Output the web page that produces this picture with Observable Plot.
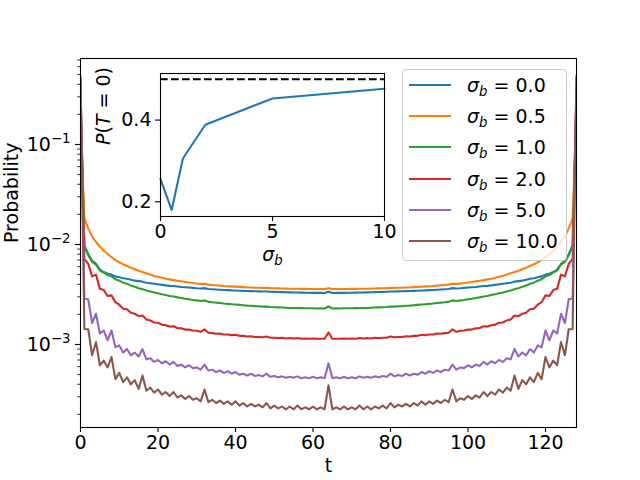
<!DOCTYPE html>
<html><head><meta charset="utf-8">
<script src="https://cdn.jsdelivr.net/npm/d3@7"></script>
<script src="https://cdn.jsdelivr.net/npm/@observablehq/plot@0.6"></script>
<style>
body{margin:0;background:#fff;font-family:"DejaVu Sans",sans-serif;}
#wrap{position:relative;width:640px;height:480px;overflow:hidden;background:#fff;}
#main,#inset{position:absolute;}
#main{left:0;top:0;}
#inset{left:100px;top:63px;}
#legend{position:absolute;left:402px;top:69px;width:165px;height:192px;box-sizing:border-box;background:rgba(255,255,255,0.8);border:1px solid #cccccc;border-radius:4px;font-family:"DejaVu Sans",sans-serif;font-size:19px;color:#000;}
.row{position:absolute;left:0;width:160px;height:24px;}
.swatch{position:absolute;left:6px;width:42px;height:2.1px;top:11px;}
.lab{position:absolute;left:64px;top:0;line-height:24px;white-space:nowrap;}
.lab i{font-style:italic;}
.lab .sub{font-size:70%;position:relative;top:0.3em;}
</style>
</head><body>
<div id="wrap"><div id="main"></div><div id="inset"></div><div id="legend"></div></div>
<script>
// ---- data (probabilities in units of 1e-4), t = 0..128 ----
const sigmaLabels = ["0.0","0.5","1.0","2.0","5.0","10.0"];
const sigmaValues = [0, 0.5, 1, 2, 5, 10];
const colors = ["#1f77b4","#ff7f0e","#2ca02c","#d62728","#9467bd","#8c564b"];
const pT0 = [0.2556, 0.1797, 0.306, 0.3885, 0.453, 0.4766];

const p_s00 = [2556, 98,80,69,64,56,53,51,50,48,47, 46,45.5,44.5,43.5,43,42.5,41.5,41,40.5,40,
 39.5,39,38.6,38.4,38,37.6,37.4,37.1,36.8,36.5, 36.3,36.6,35.9,35.7,35.5,35.3,35.1,35,34.8,34.7,
 34.5,34.4,34.3,34.2,34.1,34,33.9,33.9,33.7,33.6, 33.5,33.4,33.3,33.2,33.1,33.1,33.0,32.9,32.9,32.8,
 32.8,32.8,32.7,33.6,
 32.7,32.8,32.8,32.8,32.9,32.9,33.0,33.1,33.1,33.2, 33.3,33.4,33.5,33.6,33.7,33.9,33.9,34,34.1,34.2,
 34.3,34.4,34.5,34.7,34.8,35,35.1,35.3,35.5,35.7, 35.9,36.6,36.3,36.5,36.8,37.1,37.4,37.6,38,38.4,
 38.6,39,39.5,40,40.5,41,41.5,42.5,43,43.5, 44.5,45.5,46,47,48,50,51,53,56,64, 69,80,98, 2500];

const p_s05 = [1797, 182,145,120,106,95,87,80,75,70,66.5, 63.5,61,58.5,56.5,54.5,53,51.5,50,48.5,47.5,
 46.5,45.5,44.8,44,43.4,42.8,42.2,41.7,41.2,40.8, 40.4,40.5,39.7,39.4,39.1,38.8,38.5,38.3,38.1,37.9,
 37.7,37.5,37.3,37.2,37.0,36.9,36.8,36.8,36.6,36.5, 36.4,36.3,36.2,36.1,36.1,36.1,36.0,36.0,35.9,35.9,
 35.9,35.9,35.8,36.6,
 35.8,35.9,35.9,35.9,35.9,36.0,36.0,36.1,36.1,36.1, 36.2,36.3,36.4,36.5,36.6,36.8,36.8,36.9,37.0,37.2,
 37.3,37.5,37.7,37.9,38.1,38.3,38.5,38.8,39.1,39.4, 39.7,40.5,40.4,40.8,41.2,41.7,42.2,42.8,43.4,44,
 44.8,45.5,46.5,47.5,48.5,50,51.5,53,54.5,56.5, 58.5,61,63.5,66.5,70,75,80,87,95,106, 120,145,182, 1850];

const p_s10 = [3060, 98,78,67,63,55,52.5,49.5,48,45,43.5, 41.5,40.5,38.8,37.8,36.6,35.8,34.6,33.9,33.1,32.5,
 31.8,31.2,30.6,30.2,29.6,29.2,28.7,28.4,27.9,27.6, 27.2,27.6,26.7,26.5,26.2,26.0,25.7,25.5,25.3,25.1,
 24.9,24.7,24.5,24.4,24.2,24.1,23.9,23.9,23.7,23.6, 23.5,23.4,23.3,23.2,23.2,23.2,23.1,23.0,23.0,23.0,
 22.9,23.0,22.9,24.0,
 22.9,23.0,22.9,23.0,23.0,23.0,23.1,23.2,23.2,23.2, 23.3,23.4,23.5,23.6,23.7,23.9,23.9,24.1,24.2,24.4,
 24.5,24.7,24.9,25.1,25.3,25.5,25.7,26.0,26.2,26.5, 26.7,27.6,27.2,27.6,27.9,28.4,28.7,29.2,29.6,30.2,
 30.6,31.2,31.8,32.5,33.1,33.9,34.6,35.8,36.6,37.8, 38.8,40.5,41.5,43.5,45,48,49.5,52.5,55,63, 67,78,98, 3100];

const p_s20 = [3885, 72,64,48,50,36,35,30.5,31,26.5,25, 22.8,22.5,20.8,20.3,19.2,19.5,17.8,17.4,16.6,16.5,
 15.8,15.6,15.1,15.2,14.6,14.5,14.1,14.1,13.8,13.7, 13.4,14.2,13.1,13.0,12.8,12.9,12.6,12.6,12.4,12.5,
 12.2,12.2,12.0,12.1,11.9,11.9,11.8,12.0,11.7,11.7, 11.6,11.7,11.5,11.6,11.5,11.6,11.4,11.5,11.4,11.5,
 11.4,11.4,11.4,13.2,
 11.4,11.4,11.4,11.5,11.4,11.5,11.4,11.6,11.5,11.6, 11.5,11.7,11.6,11.7,11.7,12.0,11.8,11.9,11.9,12.1,
 12.0,12.2,12.2,12.5,12.4,12.6,12.6,12.9,12.8,13.0, 13.1,14.2,13.4,13.7,13.8,14.1,14.1,14.5,14.6,15.2,
 15.1,15.6,15.8,16.5,16.6,17.4,17.8,19.5,19.2,20.3, 20.8,22.5,22.8,25,26.5,31,30.5,35,36,50, 48,64,72, 3950];

const p_s50 = [4530, 28.8,28.3,16.4,20.3,12.9,13.8,11.0,13.8,9.4,9.8, 8.3,9.0,7.8,8.3,7.6,9.0,7.1,7.3,6.7,7.0,
 6.5,6.8,6.3,6.7,6.1,6.3,5.9,6.2,5.8,5.9, 5.6,6.3,5.5,5.6,5.3,5.5,5.2,5.4,5.1,5.3,
 5.0,5.1,4.9,5.1,4.85,4.95,4.8,5.1,4.75,4.85, 4.7,4.8,4.65,4.75,4.65,4.8,4.6,4.7,4.6,4.75,
 4.6,4.7,4.6,6.5,
 4.6,4.7,4.6,4.75,4.6,4.7,4.6,4.8,4.65,4.75, 4.65,4.8,4.7,4.85,4.75,5.1,4.8,4.95,4.85,5.1,
 4.9,5.1,5.0,5.3,5.1,5.4,5.2,5.5,5.3,5.6, 5.5,6.3,5.6,5.9,5.8,6.2,5.9,6.3,6.1,6.7,
 6.3,6.8,6.5,7.0,6.7,7.3,7.1,9.0,7.6,8.3, 7.8,9.0,8.3,9.8,9.4,13.8,11.0,13.8,12.9,20.3, 16.4,28.3,28.8, 4600];

const p_s100 = [4766, 14.3,14.2,7.8,10.6,6.2,6.9,5.9,7.5,4.5,5.2, 4.2,4.7,4.0,4.4,3.6,4.9,3.45,3.7,3.3,3.55,
 3.15,3.35,3.05,3.35,2.95,3.1,2.85,3.05,2.8,2.9, 2.7,3.55,2.65,2.8,2.6,2.75,2.55,2.7,2.5,2.7,
 2.45,2.6,2.4,2.55,2.4,2.5,2.35,2.6,2.3,2.45, 2.3,2.4,2.25,2.4,2.25,2.45,2.25,2.35,2.25,2.4,
 2.25,2.35,2.25,3.9,
 2.25,2.35,2.25,2.4,2.25,2.35,2.25,2.45,2.25,2.4, 2.25,2.4,2.3,2.45,2.3,2.6,2.35,2.5,2.4,2.55,
 2.4,2.6,2.45,2.7,2.5,2.7,2.55,2.75,2.6,2.8, 2.65,3.55,2.7,2.9,2.8,3.05,2.85,3.1,2.95,3.35,
 3.05,3.35,3.15,3.55,3.3,3.7,3.45,4.9,3.6,4.4, 4.0,4.7,4.2,5.2,4.5,7.5,5.9,6.9,6.2,10.6, 7.8,14.2,14.3, 4900];

const seriesValues = [p_s00, p_s05, p_s10, p_s20, p_s50, p_s100];
const unit = 1e-4;

const xTicks = [0, 20, 40, 60, 80, 100, 120];
const yMajor = [1e-3, 1e-2, 1e-1];
const yMinor = [2e-4,3e-4,4e-4,5e-4,6e-4,7e-4,8e-4,9e-4, 2e-3,3e-3,4e-3,5e-3,6e-3,7e-3,8e-3,9e-3,
                2e-2,3e-2,4e-2,5e-2,6e-2,7e-2,8e-2,9e-2, 2e-1,3e-1,4e-1,5e-1,6e-1,7e-1];
const insetXTicks = [0, 5, 10];
const insetYTicks = [0.2, 0.4];
const insetRef = 0.5;

// ---- tables ----
const data = [];
seriesValues.forEach((arr, i) => arr.forEach((v, t) => data.push({t, p: v * unit, s: sigmaLabels[i]})));
const insetData = sigmaValues.map((s, i) => ({s, p: pT0[i]}));

const font = {fontFamily: "'DejaVu Sans', sans-serif", fontSize: "19px", color: "black", background: "transparent", overflow: "visible"};

const main = Plot.plot({
  width: 640, height: 480,
  marginLeft: 80, marginRight: 64, marginTop: 58, marginBottom: 53,
  style: font,
  x: {domain: [0, 128], label: null},
  y: {type: "log", domain: [1.479e-4, 0.7244], label: null},
  color: {domain: sigmaLabels, range: colors},
  marks: [
    Plot.line(data, {x: "t", y: "p", z: "s", stroke: "s", strokeWidth: 2.1, clip: true}),
    Plot.frame({stroke: "black", strokeWidth: 1.1}),
    Plot.axisX({ticks: xTicks, tickSize: 5, tickPadding: 3, strokeWidth: 1.1, label: null, tickFormat: d => String(d)}),
    Plot.axisY({ticks: yMajor, tickSize: 5, tickPadding: 5, strokeWidth: 1.1, label: null,
      tickFormat: d => "10^" + String(Math.round(Math.log10(d))).replace("-", "\u2212")}),
    Plot.axisY({ticks: yMinor, tickSize: 2.8, strokeWidth: 0.8, label: null, tickFormat: () => ""}),
    Plot.text(["Probability"], {text: d => d, frameAnchor: "left", dx: -69, rotate: -90}),
    Plot.text(["t"], {text: d => d, frameAnchor: "bottom", dy: 44})
  ]
});
document.getElementById("main").appendChild(main);

d3.select(main).selectAll("text").each(function () {
  const s = this.textContent;
  if (!s.includes("^")) return;
  const [b, e] = s.split("^");
  const sel = d3.select(this);
  sel.text("");
  sel.append("tspan").text(b);
  sel.append("tspan").attr("dy", "-7.5").attr("font-size", "13.3px").text(e);
});

const inset = Plot.plot({
  width: 294, height: 215,
  marginLeft: 60, marginRight: 10, marginTop: 10, marginBottom: 62,
  style: font,
  x: {domain: [0, 10], label: null},
  y: {domain: [0.164, 0.514], label: null},
  marks: [
    Plot.frame({fill: "white", stroke: "none"}),
    Plot.ruleY([insetRef], {stroke: "black", strokeWidth: 2.1, strokeDasharray: "7.7,3.3", strokeLinecap: "butt"}),
    Plot.line(insetData, {x: "s", y: "p", stroke: colors[0], strokeWidth: 2.1}),
    Plot.frame({stroke: "black", strokeWidth: 1.1}),
    Plot.axisX({ticks: insetXTicks, tickSize: 5, tickPadding: 3, strokeWidth: 1.1, label: null, tickFormat: d => String(d)}),
    Plot.axisY({ticks: insetYTicks, tickSize: 5, tickPadding: 4, strokeWidth: 1.1, label: null, tickFormat: d => d.toFixed(1)}),
    Plot.text(["σb"], {text: d => d, frameAnchor: "bottom", dy: 44}),
    Plot.text(["P(T = 0)"], {text: d => d, frameAnchor: "left", dx: -57, rotate: -90})
  ]
});
document.getElementById("inset").appendChild(inset);

d3.select(inset).selectAll("text").each(function () {
  const s = this.textContent;
  const sel = d3.select(this);
  if (s === "σb") {
    sel.text("");
    sel.append("tspan").attr("font-style", "italic").text("σ");
    sel.append("tspan").attr("font-style", "italic").attr("font-size", "13.3px").attr("dy", "4").text("b");
  } else if (s === "P(T = 0)") {
    sel.text("");
    sel.append("tspan").attr("font-style", "italic").text("P");
    sel.append("tspan").text("(");
    sel.append("tspan").attr("font-style", "italic").text("T");
    sel.append("tspan").text(" = 0)");
  }
});

// ---- legend ----
const legend = d3.select("#legend");
sigmaLabels.forEach((lab, i) => {
  const cy = 85 + 31.2 * i - 70;
  const row = legend.append("div").attr("class", "row").style("top", (cy - 12) + "px");
  row.append("div").attr("class", "swatch").style("background", colors[i]);
  row.append("div").attr("class", "lab").html(`<i>σ</i><i class="sub">b</i> = ${lab}`);
});
</script>
</body></html>
